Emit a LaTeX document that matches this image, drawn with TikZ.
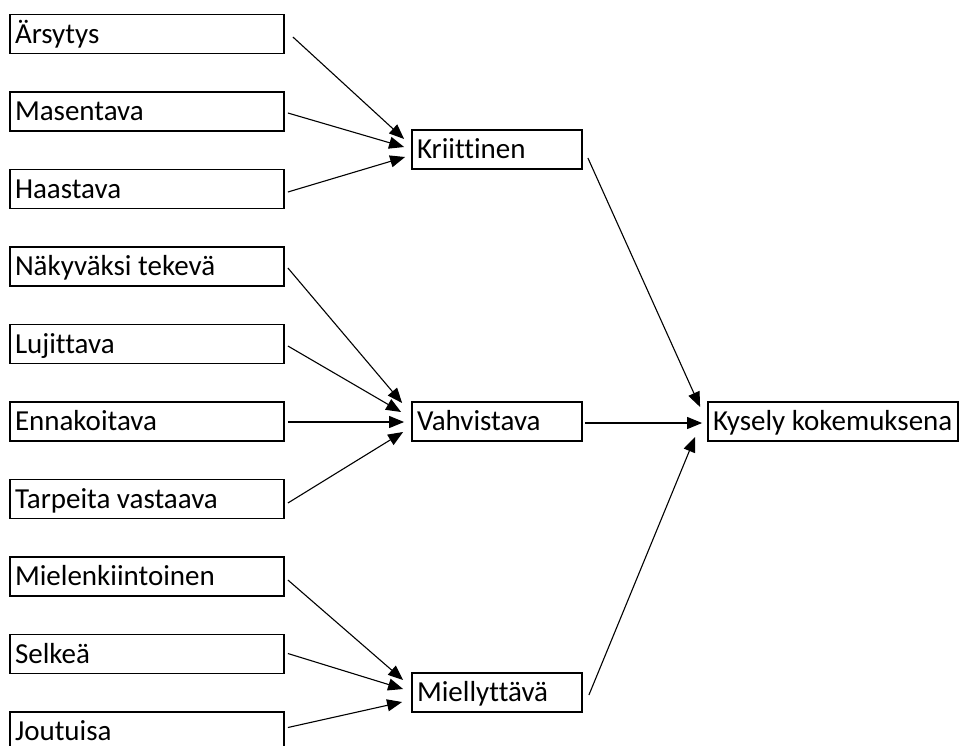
\documentclass[tikz,border=0pt]{standalone}
\usepackage{fontspec}
\setmainfont{Carlito}[Ligatures=NoCommon]
\usetikzlibrary{arrows.meta,calc}
% left-aligned label of a given width inside a box
\newcommand{\flushtext}[2]{\makebox[#1][l]{#2}}
\begin{document}
\begin{tikzpicture}[x=1pt,y=-1pt,
  box/.style={draw, line width=1.8pt, rectangle, minimum height=39pt,
    inner xsep=5pt, inner ysep=0pt, text height=18.5pt, text depth=0pt,
    font=\fontsize{29}{35}\selectfont},
  link/.style={line width=1.1pt, -{Triangle[length=15pt,width=12pt]}}
]
\useasboundingbox (0,0) rectangle (965,745);

% source factors
\node[box] (a1) at (147,34)    {\flushtext{264pt}{Ärsytys}};
\node[box] (a2) at (147,111.5) {\flushtext{264pt}{Masentava}};
\node[box] (a3) at (147,189)   {\flushtext{264pt}{Haastava}};
\node[box] (b1) at (147,266.5) {\flushtext{264pt}{Näkyväksi tekevä}};
\node[box] (b2) at (147,344)   {\flushtext{264pt}{Lujittava}};
\node[box] (b3) at (147,421.5) {\flushtext{264pt}{Ennakoitava}};
\node[box] (b4) at (147,499)   {\flushtext{264pt}{Tarpeita vastaava}};
\node[box] (c1) at (147,576.5) {\flushtext{264pt}{Mielenkiintoinen}};
\node[box] (c2) at (147,654)   {\flushtext{264pt}{Selkeä}};
\node[box] (c3) at (147,731.5) {\flushtext{264pt}{Joutuisa}};

% intermediate categories
\node[box] (k) at (497,149.5) {\flushtext{160pt}{Kriittinen}};
\node[box] (v) at (497,421.5) {\flushtext{160pt}{Vahvistava}};
\node[box] (m) at (497,692.5) {\flushtext{160pt}{Miellyttävä}};

% outcome
\node[box] (ky) at (833,421.5) {\flushtext{240pt}{Kysely kokemuksena\hss}};

% factors -> Kriittinen
\draw[link] ($(a1.east)+(8,3)$)   -- ($(k.west)+(-7,-10.5)$);
\draw[link] ($(a2.east)+(3,1.5)$) -- ($(k.west)+(-7,-2.5)$);
\draw[link] ($(a3.east)+(3,3)$)   -- ($(k.west)+(-6,7.5)$);

% factors -> Vahvistava
\draw[link] ($(b1.east)+(3,1.5)$) -- ($(v.west)+(-9,-18.5)$);
\draw[link] ($(b2.east)+(3,2)$)   -- ($(v.west)+(-10,-9.5)$);
\draw[link] ($(b3.east)+(3,0.5)$) -- ($(v.west)+(-7,0.5)$);
\draw[link] ($(b4.east)+(3,4)$)   -- ($(v.west)+(-8,10.5)$);

% factors -> Miellyttävä
\draw[link] ($(c1.east)+(3,3.5)$)  -- ($(m.west)+(-8,-12.5)$);
\draw[link] ($(c2.east)+(3,-0.5)$) -- ($(m.west)+(-8,-3.5)$);
\draw[link] ($(c3.east)+(3,-4)$)   -- ($(m.west)+(-9,9.5)$);

% categories -> outcome
\draw[link] ($(k.east)+(5,8.5)$) -- ($(ky.west)+(-7,-14.5)$);
\draw[link] ($(v.east)+(2,1.5)$) -- ($(ky.west)+(-5,1.5)$);
\draw[link] ($(m.east)+(6,2.5)$) -- ($(ky.west)+(-12,15.5)$);
\end{tikzpicture}
\end{document}
